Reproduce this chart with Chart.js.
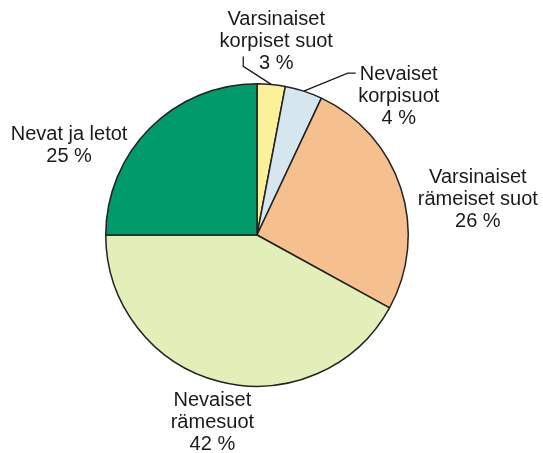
<!DOCTYPE html>
<html lang="fi">
<head>
<meta charset="UTF-8">
<title>Suotyypit</title>
<script src="https://cdn.jsdelivr.net/npm/chart.js"></script>
<style>
  html, body { margin: 0; padding: 0; background: #fff; }
  canvas { display: block; }
</style>
</head>
<body>
<canvas id="pie" width="543" height="453"></canvas>
<script>
  // data, clockwise from the top
  const labels = [
    ['Varsinaiset', 'korpiset suot'],
    ['Nevaiset', 'korpisuot'],
    ['Varsinaiset', 'rämeiset suot'],
    ['Nevaiset', 'rämesuot'],
    ['Nevat ja letot']
  ];
  const shares = [3, 4, 26, 42, 25];
  const colors = ['#fdf09a', '#d6e6ee', '#f5bf8e', '#e3efb8', '#009a6b'];

  // label block offsets from the middle of each slice's rim, and leader lines
  const labelOffsets = [[5, -43], [95, 5], [77, 11], [-7, 41], [-81, 17]];
  const leaders = [
    [[0, 0], [-28, -18], [-28, -28]],
    [[0, 0], [44, -18], [52, -18]],
    null, null, null
  ];

  const outsideLabels = {
    id: 'outsideLabels',
    afterDatasetsDraw(chart) {
      const ctx = chart.ctx;
      const arcs = chart.getDatasetMeta(0).data;
      ctx.save();
      ctx.font = '20px "Liberation Sans", Arial, sans-serif';
      ctx.fillStyle = '#1a1a1a';
      ctx.textAlign = 'center';
      ctx.textBaseline = 'middle';
      ctx.strokeStyle = '#1a1a1a';
      ctx.lineWidth = 1.3;
      arcs.forEach((arc, i) => {
        const mid = (arc.startAngle + arc.endAngle) / 2;
        const px = arc.x + Math.cos(mid) * arc.outerRadius;
        const py = arc.y + Math.sin(mid) * arc.outerRadius;
        const lines = labels[i].concat([shares[i] + ' %']);
        const lh = 22;
        const cx = px + labelOffsets[i][0];
        const cy = py + labelOffsets[i][1];
        const top = cy - (lines.length - 1) * lh / 2;
        lines.forEach((t, k) => ctx.fillText(t, cx, top + k * lh));
        if (leaders[i]) {
          ctx.beginPath();
          leaders[i].forEach(([dx, dy], k) => {
            if (k === 0) ctx.moveTo(px + dx, py + dy);
            else ctx.lineTo(px + dx, py + dy);
          });
          ctx.stroke();
        }
      });
      ctx.restore();
    }
  };

  new Chart(document.getElementById('pie'), {
    type: 'pie',
    data: {
      labels: labels.map(l => l.join(' ')),
      datasets: [{
        data: shares,
        backgroundColor: colors,
        borderColor: '#222',
        borderWidth: 1.5
      }]
    },
    options: {
      responsive: false,
      animation: false,
      layout: { padding: { left: 105, top: 83, right: 134, bottom: 66 } },
      plugins: {
        legend: { display: false },
        tooltip: { enabled: false }
      }
    },
    plugins: [outsideLabels]
  });
</script>
</body>
</html>
